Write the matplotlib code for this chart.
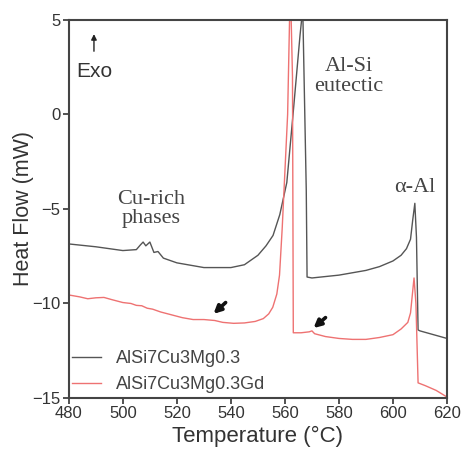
import matplotlib
matplotlib.use("Agg")
import matplotlib.pyplot as plt

# --- data ---
temp_base = [480, 490, 500, 505, 506.5, 507.5, 508.5, 510, 511.5, 513, 515, 520, 530, 540,
             545, 550, 553, 555.6, 558.1, 560.7, 563, 565.6, 566.6, 567.9, 568.2, 570, 580,
             590, 595, 600, 603, 605, 606.5, 607.3, 608.1, 608.7, 609.3, 610, 615, 620]
hf_base = [-6.85, -7.0, -7.2, -7.15, -6.9, -6.75, -6.95, -6.75, -7.3, -7.25, -7.6, -7.85,
           -8.1, -8.1, -7.95, -7.45, -6.95, -6.4, -5.3, -3.6, 0.0, 4.2, 5.6, -4.0, -8.6,
           -8.65, -8.5, -8.25, -8.05, -7.75, -7.45, -7.1, -6.6, -5.6, -4.7, -6.5, -11.4,
           -11.45, -11.65, -11.85]

temp_gd = [480, 484, 487, 490, 493, 496, 500, 503, 505, 507, 509, 511, 514, 518, 522, 526,
           530, 534, 537, 541, 545, 549, 552, 554, 555.5, 557, 558, 559, 560, 561, 562,
           562.8, 563.1, 566, 569, 570, 571, 575, 580, 585, 590, 595, 600, 603, 605.5,
           606.5, 607.2, 607.8, 608.5, 609.3, 612, 616, 620]
hf_gd = [-9.55, -9.65, -9.75, -9.7, -9.68, -9.8, -9.95, -10.0, -10.1, -10.12, -10.25, -10.3,
         -10.45, -10.6, -10.75, -10.85, -10.85, -10.9, -11.0, -11.05, -11.03, -10.95, -10.8,
         -10.55, -10.2, -9.5, -8.5, -6.0, -3.0, 0.0, 7.0, 2.0, -11.55, -11.55, -11.5,
         -11.45, -11.6, -11.75, -11.85, -11.9, -11.9, -11.8, -11.65, -11.35, -11.0, -10.5,
         -9.5, -8.65, -10.0, -14.2, -14.35, -14.6, -14.95]

series_labels = ["AlSi7Cu3Mg0.3", "AlSi7Cu3Mg0.3Gd"]
xticks = [480, 500, 520, 540, 560, 580, 600, 620]
yticks = [-15, -10, -5, 0, 5]

plt.rcParams['font.family'] = ['Liberation Sans', 'DejaVu Sans']

fig = plt.figure(figsize=(4.62, 4.5), dpi=100)
ax = fig.add_axes([0.149, 0.1156, 0.8185, 0.84])

ax.plot(temp_base, hf_base, color='#555555', lw=1.0, label=series_labels[0])
ax.plot(temp_gd, hf_gd, color='#ee7272', lw=1.0, label=series_labels[1])

ax.set_xlim(480, 620)
ax.set_ylim(-15, 5)
ax.set_xticks(xticks)
ax.set_yticks(yticks)
ax.tick_params(direction='out', length=4, width=1.2, labelsize=12, pad=2,
               colors='#333333')
for sp in ax.spines.values():
    sp.set_linewidth(1.5)
    sp.set_color('#444444')

ax.set_xlabel("Temperature (\u00b0C)", fontsize=16, labelpad=3, color='#333333')
ax.set_ylabel("Heat Flow (mW)", fontsize=15.5, labelpad=-1, color='#333333')

leg = ax.legend(loc='lower left', frameon=False, fontsize=13, handlelength=1.6,
                handletextpad=0.8, borderaxespad=0.2, labelspacing=0.5,
                bbox_to_anchor=(-0.019, -0.016))
for t in leg.get_texts():
    t.set_color('#444444')

# annotations
serif = ['Liberation Serif', 'DejaVu Serif']
ax.text(510.4, -5.0, "Cu-rich\nphases", family=serif, fontsize=16, ha='center',
        va='center', color='#444444', linespacing=1.0)
ax.text(583.7, 2.0, "Al-Si\neutectic", family=serif, fontsize=16, ha='center',
        va='center', color='#444444', linespacing=1.05)
ax.text(608.0, -3.85, "\u03b1-Al", family=serif, fontsize=16, ha='center',
        va='center', color='#444444')

ax.annotate("", xy=(489.3, 4.4), xytext=(489.3, 3.2),
            arrowprops=dict(arrowstyle='-|>', color='#222222', lw=1.0,
                            mutation_scale=8))
ax.text(489.3, 2.3, "Exo", fontsize=15, ha='center', va='center', color='#333333')

for (tx, ty, hx, hy) in [(538.8, -9.85, 532.8, -10.65), (575.8, -10.65, 569.8, -11.4)]:
    ax.annotate("", xy=(hx, hy), xytext=(tx, ty),
                arrowprops=dict(arrowstyle='-|>', color='#111111', lw=2.6,
                                mutation_scale=11))

fig.savefig("out.png", dpi=100)
